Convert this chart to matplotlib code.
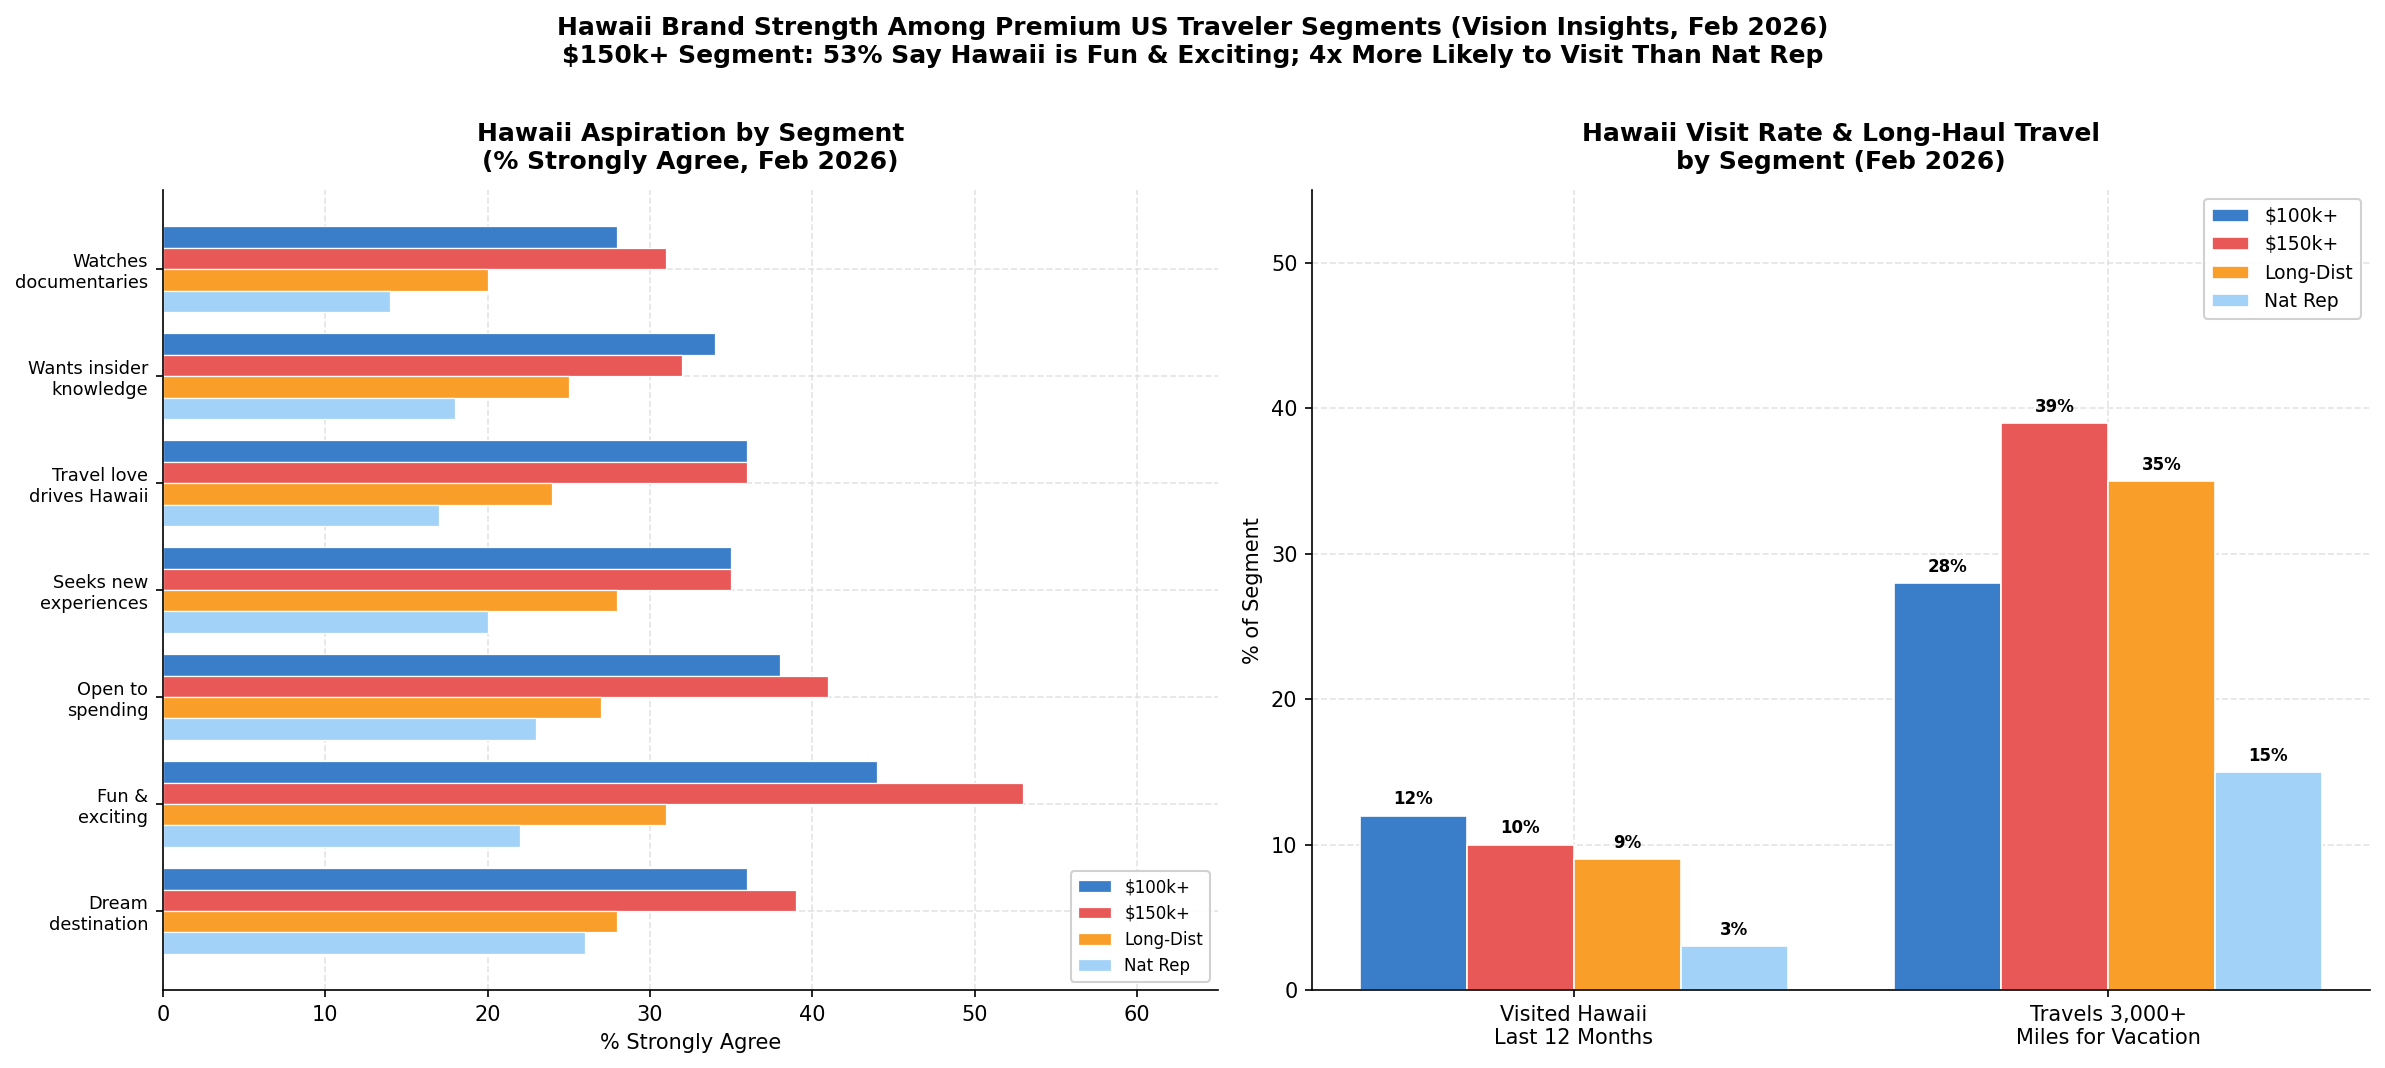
import matplotlib
matplotlib.use("Agg")
import matplotlib.pyplot as plt
import numpy as np

# ---- data ----
categories = ["Dream\ndestination", "Fun &\nexciting", "Open to\nspending", "Seeks new\nexperiences",
              "Travel love\ndrives Hawaii", "Wants insider\nknowledge", "Watches\ndocumentaries"]
series_names = ["$100k+", "$150k+", "Long-Dist", "Nat Rep"]
asp_100k = [36, 44, 38, 35, 36, 34, 28]
asp_150k = [39, 53, 41, 35, 36, 32, 31]
asp_longdist = [28, 31, 27, 28, 24, 25, 20]
asp_natrep = [26, 22, 23, 20, 17, 18, 14]

visit_categories = ["Visited Hawaii\nLast 12 Months", "Travels 3,000+\nMiles for Vacation"]
visit_100k = [12, 28]
visit_150k = [10, 39]
visit_longdist = [9, 35]
visit_natrep = [3, 15]

colors = ["#3a7dc9", "#e85857", "#fa9e2a", "#a3d2f8"]

fig = plt.figure(figsize=(15.9, 7.12), dpi=150)
fig.suptitle("Hawaii Brand Strength Among Premium US Traveler Segments (Vision Insights, Feb 2026)\n"
             "$150k+ Segment: 53% Say Hawaii is Fun & Exciting; 4x More Likely to Visit Than Nat Rep",
             fontsize=12, fontweight="bold", y=0.985)

# ---- left chart ----
ax1 = fig.add_axes([0.0683, 0.073, 0.4424, 0.749])
y = np.arange(len(categories))
h = 0.2
asp = [asp_100k, asp_150k, asp_longdist, asp_natrep]
offsets = [0.3, 0.1, -0.1, -0.3]
for vals, off, c, name in zip(asp, offsets, colors, series_names):
    ax1.barh(y + off, vals, height=h, color=c, edgecolor="white", linewidth=0.6, label=name)
ax1.set_yticks(y)
ax1.set_yticklabels(categories, fontsize=8.5)
ax1.set_xlim(0, 65)
ax1.set_xlabel("% Strongly Agree", fontsize=10)
ax1.set_title("Hawaii Aspiration by Segment\n(% Strongly Agree, Feb 2026)", fontsize=12, fontweight="bold", pad=10)
ax1.grid(True, linestyle="--", color="#dddddd", alpha=0.8, linewidth=0.8)
ax1.set_axisbelow(True)
ax1.spines["top"].set_visible(False)
ax1.spines["right"].set_visible(False)
ax1.legend(loc="lower right", fontsize=8, framealpha=0.9)

# ---- right chart ----
ax2 = fig.add_axes([0.5501, 0.073, 0.4436, 0.749])
x = np.arange(len(visit_categories))
w = 0.2
visit = [visit_100k, visit_150k, visit_longdist, visit_natrep]
xoffs = [-0.3, -0.1, 0.1, 0.3]
for vals, off, c, name in zip(visit, xoffs, colors, series_names):
    bars = ax2.bar(x + off, vals, width=w, color=c, edgecolor="white", linewidth=0.8, label=name)
    for b, v in zip(bars, vals):
        ax2.text(b.get_x() + b.get_width() / 2, v + 0.5, f"{v}%", ha="center", va="bottom",
                 fontsize=8, fontweight="bold")
ax2.set_xticks(x)
ax2.set_xticklabels(visit_categories, fontsize=10)
ax2.set_ylim(0, 55)
ax2.set_ylabel("% of Segment", fontsize=10)
ax2.set_title("Hawaii Visit Rate & Long-Haul Travel\nby Segment (Feb 2026)", fontsize=12, fontweight="bold", pad=10)
ax2.grid(True, linestyle="--", color="#dddddd", alpha=0.8, linewidth=0.8)
ax2.set_axisbelow(True)
ax2.spines["top"].set_visible(False)
ax2.spines["right"].set_visible(False)
ax2.legend(loc="upper right", fontsize=9, framealpha=0.9)

fig.savefig("out.png", dpi=150)
